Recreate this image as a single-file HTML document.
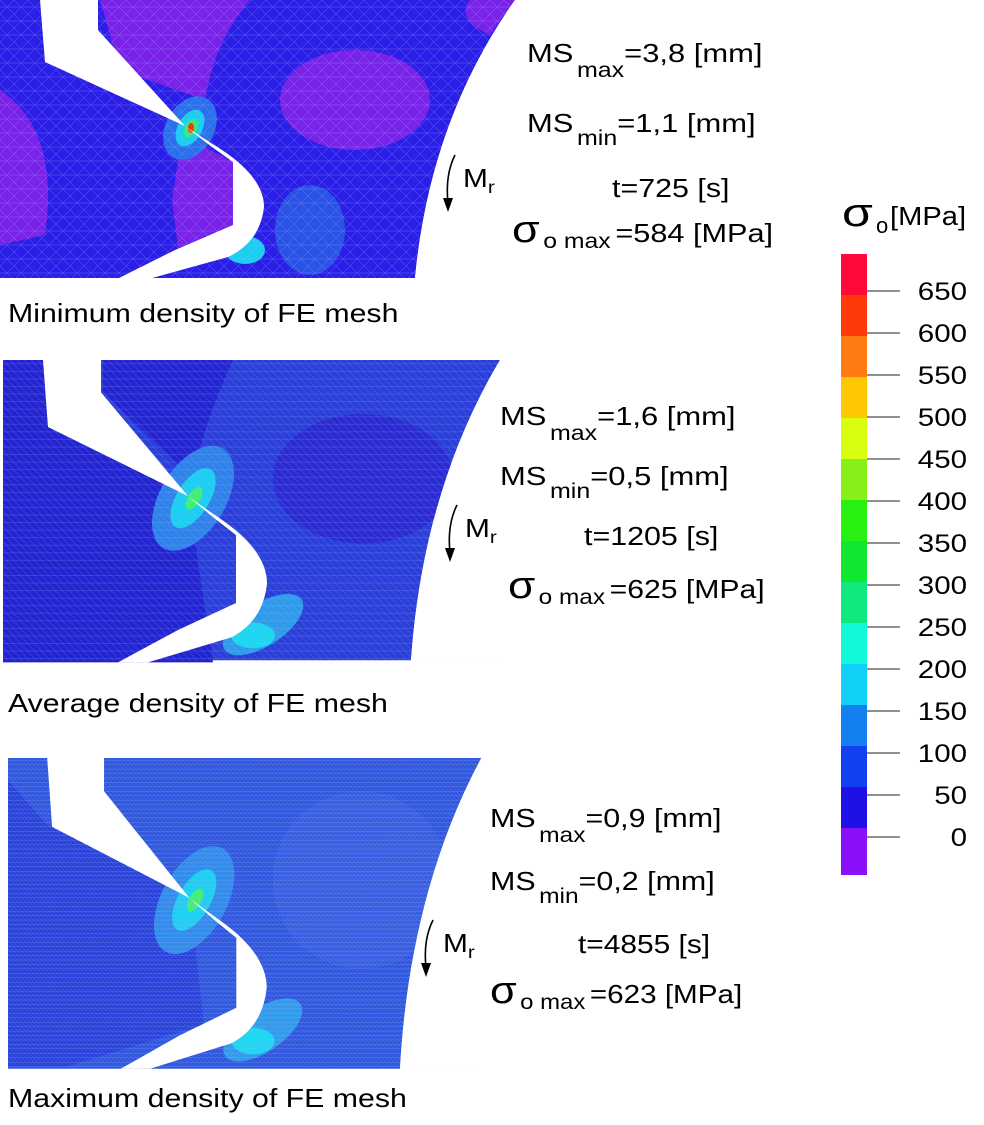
<!DOCTYPE html>
<html><head><meta charset="utf-8"><style>
html,body{margin:0;padding:0;background:#fff;}
svg{display:block;font-family:"Liberation Sans",sans-serif;}
</style></head><body>
<svg width="984" height="1125" viewBox="0 0 984 1125" xmlns="http://www.w3.org/2000/svg">
<defs>
<pattern id="mesh1" width="14" height="14" patternUnits="userSpaceOnUse">
<path d="M0 0L14 14M0 14L14 0M0 7H14" stroke="#9aa8ff" stroke-width="0.5" opacity="0.5"/>
</pattern>
<pattern id="mesh2" width="7" height="7" patternUnits="userSpaceOnUse">
<path d="M0 0L7 7M0 3.5H7" stroke="#9ab0ff" stroke-width="0.4" opacity="0.5"/>
</pattern>
<pattern id="mesh3" width="4" height="4" patternUnits="userSpaceOnUse">
<path d="M0 0L4 4M0 2H4" stroke="#9ab8ff" stroke-width="0.4" opacity="0.5"/>
</pattern>
<g id="slot">
<path d="M40 0 L98 0 L98 30 L185 126 L45 62 Z" fill="#fff"/>
<path d="M186 127 L222 150 Q264 178 264 207 Q260 242 228 257 L145 280 L115 280 L175 250 L233 225 L233 162 L212 147 Z" fill="#fff"/>
</g>
</defs>

<!-- Panel 1 -->
<g>
<path d="M0 0 H515 Q430 120 415 278 H0 Z" fill="#2b1ee6"/>
<ellipse cx="355" cy="100" rx="75" ry="50" fill="#7a22e8"/>
<path d="M0 90 Q60 130 45 235 L0 245 Z" fill="#7a22e8"/>
<path d="M100 0 H250 Q215 40 205 100 L120 70 Z" fill="#7a22e8"/>
<path d="M470 0 H515 Q500 20 490 35 Q455 20 470 0Z" fill="#7a22e8"/>
<path d="M182 135 L233 162 L233 225 L178 248 L172 200 Z" fill="#7a22e8"/>
<ellipse cx="310" cy="230" rx="35" ry="45" fill="#2a52e4"/>
<ellipse cx="190" cy="128" rx="24" ry="34" transform="rotate(30 190 128)" fill="#2a70ea"/>
<ellipse cx="190" cy="128" rx="12" ry="20" transform="rotate(30 190 128)" fill="#1ad0f0"/>
<ellipse cx="191" cy="128" rx="6" ry="10" transform="rotate(30 191 128)" fill="#30f070"/>
<ellipse cx="191" cy="128" rx="3" ry="5" fill="#ff3010"/>
<ellipse cx="245" cy="250" rx="20" ry="14" fill="#1ad0f0"/>
<rect width="515" height="278" fill="url(#mesh1)"/>
<use href="#slot"/>
<path d="M515 0 Q430 120 415 278 H520 V0Z" fill="#fff"/>
</g>

<!-- Panel 2 -->
<g transform="translate(3,360) scale(1,1.08)">
<path d="M0 0 H497 Q420 120 408 278 H0 Z" fill="#2a3ed8"/>
<path d="M0 0 H40 L45 62 L185 126 L210 280 H0Z" fill="#2323d0"/>
<path d="M100 0 H230 Q200 60 190 110 L100 30Z" fill="#2323d0"/>
<ellipse cx="360" cy="110" rx="90" ry="60" fill="#2a2ad0"/>
<ellipse cx="190" cy="128" rx="32" ry="55" transform="rotate(35 190 128)" fill="#2f82ea"/>
<ellipse cx="190" cy="128" rx="16" ry="32" transform="rotate(35 190 128)" fill="#1ad0f0"/>
<ellipse cx="191" cy="128" rx="6" ry="12" transform="rotate(35 191 128)" fill="#40f070"/>
<ellipse cx="260" cy="245" rx="45" ry="20" transform="rotate(-30 260 245)" fill="#2f9aea"/>
<ellipse cx="250" cy="255" rx="22" ry="12" fill="#1ad8f0"/>
<rect width="500" height="278" fill="url(#mesh2)"/>
<use href="#slot"/>
<path d="M497 0 Q420 120 408 278 H510 V0Z" fill="#fff"/>
</g>

<!-- Panel 3 -->
<g transform="translate(8,758) scale(0.98,1.11)">
<path d="M0 0 H483 Q410 120 400 280 H0 Z" fill="#2f55dc"/>
<path d="M0 20 L40 60 L185 126 L200 240 L60 278 L0 278Z" fill="#2840d8"/>
<ellipse cx="360" cy="110" rx="90" ry="80" fill="#3a5ee0" opacity="0.8"/>
<ellipse cx="190" cy="128" rx="32" ry="55" transform="rotate(35 190 128)" fill="#2f8aea"/>
<ellipse cx="190" cy="128" rx="16" ry="32" transform="rotate(35 190 128)" fill="#1ad0f0"/>
<ellipse cx="191" cy="128" rx="6" ry="12" transform="rotate(35 191 128)" fill="#40f070"/>
<ellipse cx="260" cy="245" rx="45" ry="20" transform="rotate(-30 260 245)" fill="#2f9aea"/>
<ellipse cx="250" cy="255" rx="22" ry="12" fill="#1ad8f0"/>
<rect width="483" height="280" fill="url(#mesh3)"/>
<use href="#slot"/>
<path d="M483 0 Q410 120 400 280 H495 V0Z" fill="#fff"/>
</g>

<!-- Arrows -->
<g fill="none" stroke="#000" stroke-width="1.6">
<path d="M455 155 Q445 175 448 203"/>
<path d="M457 505 Q447 525 450 553"/>
<path d="M433 920 Q423 940 426 968"/>
</g>
<g fill="#000">
<path d="M443 198 L453 198 L448 212Z"/>
<path d="M445 548 L455 548 L450 562Z"/>
<path d="M421 963 L431 963 L426 977Z"/>
</g>

<g fill="#000" font-size="26">
<g transform="translate(463,187) scale(1.15,1)"><text>M<tspan font-size="18" dy="6">r</tspan></text></g>
<g transform="translate(465,537) scale(1.15,1)"><text>M<tspan font-size="18" dy="6">r</tspan></text></g>
<g transform="translate(443,952) scale(1.15,1)"><text>M<tspan font-size="18" dy="6">r</tspan></text></g>

<g transform="translate(527,62) scale(1.19,1)"><text>MS<tspan font-size="21" dx="3" dy="15">max</tspan><tspan dy="-15">=3,8 [mm]</tspan></text></g>
<g transform="translate(527,132) scale(1.19,1)"><text>MS<tspan font-size="21" dx="3" dy="13">min</tspan><tspan dy="-13">=1,1 [mm]</tspan></text></g>
<g transform="translate(612,197) scale(1.17,1)"><text>t=725 [s]</text></g>
<g transform="translate(512,242) scale(1.18,1)"><text><tspan font-size="38">σ</tspan><tspan font-size="21" dx="3" dy="6">o max</tspan><tspan dy="-6" dx="4">=584 [MPa]</tspan></text></g>

<g transform="translate(500,425) scale(1.19,1)"><text>MS<tspan font-size="21" dx="3" dy="15">max</tspan><tspan dy="-15">=1,6 [mm]</tspan></text></g>
<g transform="translate(500,485) scale(1.19,1)"><text>MS<tspan font-size="21" dx="3" dy="13">min</tspan><tspan dy="-13">=0,5 [mm]</tspan></text></g>
<g transform="translate(584,545) scale(1.17,1)"><text>t=1205 [s]</text></g>
<g transform="translate(508,598) scale(1.16,1)"><text><tspan font-size="38">σ</tspan><tspan font-size="21" dx="3" dy="6">o max</tspan><tspan dy="-6" dx="4">=625 [MPa]</tspan></text></g>

<g transform="translate(490,827) scale(1.17,1)"><text>MS<tspan font-size="21" dx="3" dy="15">max</tspan><tspan dy="-15">=0,9 [mm]</tspan></text></g>
<g transform="translate(490,890) scale(1.17,1)"><text>MS<tspan font-size="21" dx="3" dy="13">min</tspan><tspan dy="-13">=0,2 [mm]</tspan></text></g>
<g transform="translate(578,953) scale(1.15,1)"><text>t=4855 [s]</text></g>
<g transform="translate(490,1003) scale(1.14,1)"><text><tspan font-size="38">σ</tspan><tspan font-size="21" dx="3" dy="6">o max</tspan><tspan dy="-6" dx="4">=623 [MPa]</tspan></text></g>

<g transform="translate(8,322) scale(1.165,1)"><text>Minimum density of FE mesh</text></g>
<g transform="translate(8,712) scale(1.165,1)"><text>Average density of FE mesh</text></g>
<g transform="translate(8,1107) scale(1.165,1)"><text>Maximum density of FE mesh</text></g>

<g transform="translate(842,226) scale(1.25,1)"><text font-size="40">σ</text></g>
<text x="876" y="233" font-size="22">o</text>
<g transform="translate(890,225) scale(1.12,1)"><text font-size="26">[MPa]</text></g>
</g>

<!-- Colorbar -->
<g>
<rect x="841" y="254" width="26" height="42" fill="#ff0a38"/>
<rect x="841" y="295" width="26" height="42" fill="#ff3a0a"/>
<rect x="841" y="336" width="26" height="42" fill="#ff7a10"/>
<rect x="841" y="377" width="26" height="42" fill="#ffc800"/>
<rect x="841" y="418" width="26" height="42" fill="#d8ff10"/>
<rect x="841" y="459" width="26" height="42" fill="#88f018"/>
<rect x="841" y="500" width="26" height="42" fill="#28f010"/>
<rect x="841" y="541" width="26" height="42" fill="#10e830"/>
<rect x="841" y="582" width="26" height="42" fill="#10e880"/>
<rect x="841" y="623" width="26" height="42" fill="#10f8d8"/>
<rect x="841" y="664" width="26" height="42" fill="#10d0f8"/>
<rect x="841" y="705" width="26" height="42" fill="#1480f0"/>
<rect x="841" y="746" width="26" height="42" fill="#1040f0"/>
<rect x="841" y="787" width="26" height="42" fill="#2010e8"/>
<rect x="841" y="828" width="26" height="47" fill="#8a10f8"/>
</g>
<g stroke="#222" stroke-width="1">
<path d="M867 291H900M867 333H900M867 375H900M867 417H900M867 459H900M867 501H900M867 543H900M867 585H900M867 627H900M867 669H900M867 711H900M867 753H900M867 795H900M867 837H900"/>
</g>
<g font-size="25" fill="#000" text-anchor="end">
<g transform="translate(967,300) scale(1.18,1)"><text>650</text></g>
<g transform="translate(967,342) scale(1.18,1)"><text>600</text></g>
<g transform="translate(967,384) scale(1.18,1)"><text>550</text></g>
<g transform="translate(967,426) scale(1.18,1)"><text>500</text></g>
<g transform="translate(967,468) scale(1.18,1)"><text>450</text></g>
<g transform="translate(967,510) scale(1.18,1)"><text>400</text></g>
<g transform="translate(967,552) scale(1.18,1)"><text>350</text></g>
<g transform="translate(967,594) scale(1.18,1)"><text>300</text></g>
<g transform="translate(967,636) scale(1.18,1)"><text>250</text></g>
<g transform="translate(967,678) scale(1.18,1)"><text>200</text></g>
<g transform="translate(967,720) scale(1.18,1)"><text>150</text></g>
<g transform="translate(967,762) scale(1.18,1)"><text>100</text></g>
<g transform="translate(967,804) scale(1.18,1)"><text>50</text></g>
<g transform="translate(967,846) scale(1.18,1)"><text>0</text></g>
</g>
</svg>
</body></html>
